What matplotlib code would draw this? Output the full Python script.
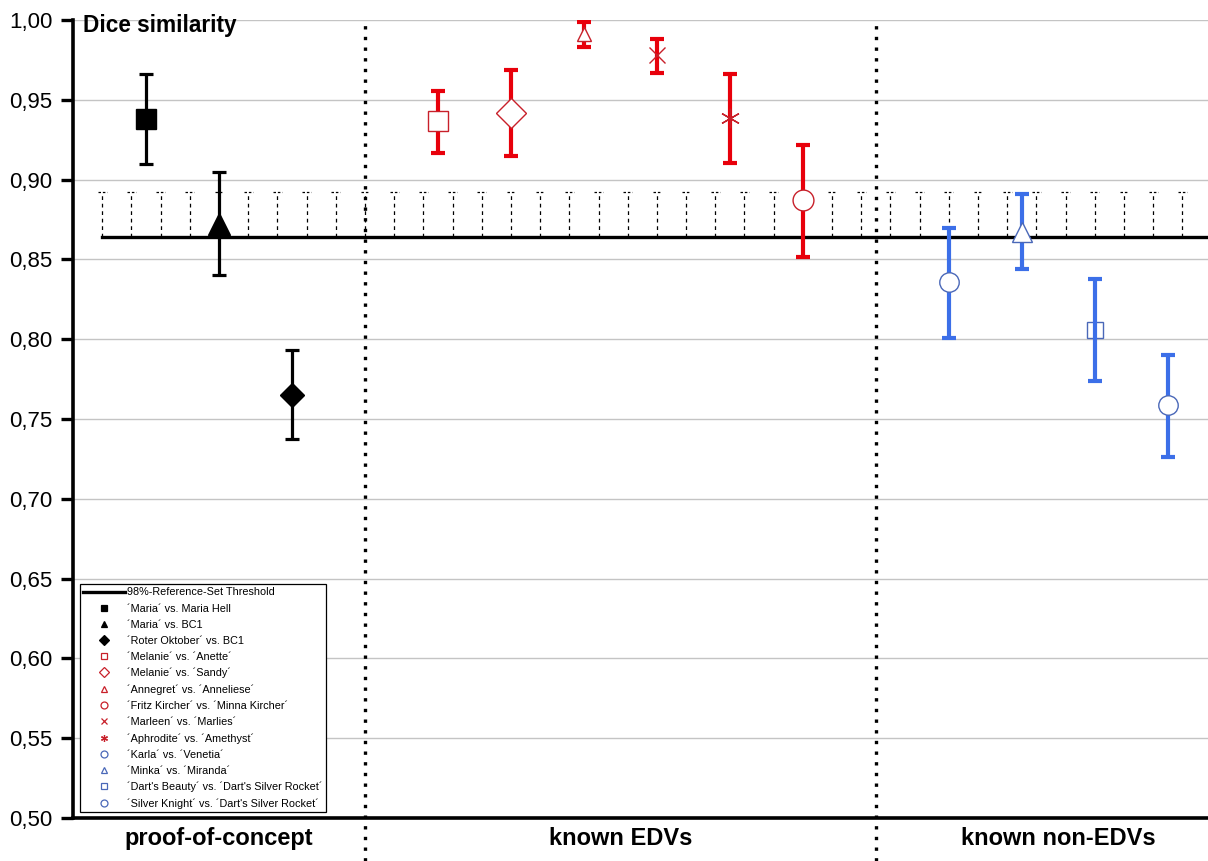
import numpy as np
import matplotlib
matplotlib.use("Agg")
import matplotlib.pyplot as plt
from matplotlib.lines import Line2D
from matplotlib.ticker import FuncFormatter, MultipleLocator

plt.rcParams['font.family'] = ['Liberation Sans', 'DejaVu Sans']

# ---------------- data (legend order) ----------------
labels = ["´Maria´ vs. Maria Hell", "´Maria´ vs. BC1", "´Roter Oktober´ vs. BC1",
          "´Melanie´ vs. ´Anette´", "´Melanie´ vs. ´Sandy´", "´Annegret´ vs. ´Anneliese´",
          "´Fritz Kircher´ vs. ´Minna Kircher´", "´Marleen´ vs. ´Marlies´",
          "´Aphrodite´ vs. ´Amethyst´", "´Karla´ vs. ´Venetia´", "´Minka´ vs. ´Miranda´",
          "´Dart's Beauty´ vs. ´Dart's Silver Rocket´",
          "´Silver Knight´ vs. ´Dart's Silver Rocket´"]
xpos = [1, 2, 3, 5, 6, 7, 10, 8, 9, 12, 13, 14, 15]
dice = [0.938, 0.8725, 0.765, 0.937, 0.942, 0.991, 0.887, 0.978, 0.9386, 0.836, 0.867, 0.806, 0.759]
upper = [0.966, 0.905, 0.793, 0.9555, 0.969, 0.9987, 0.922, 0.988, 0.966, 0.870, 0.891, 0.838, 0.790]
lower = [0.910, 0.840, 0.7375, 0.917, 0.915, 0.983, 0.8515, 0.967, 0.9106, 0.801, 0.844, 0.774, 0.726]
group = ['poc'] * 3 + ['edv'] * 6 + ['non'] * 4
markers = ['s', '^', 'D', 's', 'D', '^', 'o', 'x', (6, 2, 0), 'o', '^', 's', 'o']
msizes = [14, 16, 12, 15, 15, 10, 15, 12, 14, 14, 14, 12, 14]

thr_low = 0.864   # 98%-Reference-Set Threshold
thr_high = 0.892
hatch_x = 0.4 * np.arange(1, 39)

group_names = ["proof-of-concept", "known EDVs", "known non-EDVs"]
group_centers = [2.0, 7.5, 13.5]
dividers = [4, 11]

# ---------------- styles ----------------
bar_col = {'poc': 'black', 'edv': '#e8000b', 'non': '#3c6fe8'}
edge_col = {'poc': 'black', 'edv': '#c8202a', 'non': '#4a68b8'}
bar_lw = {'poc': 2.3, 'edv': 3.0, 'non': 3.0}

fig = plt.figure(figsize=(12.08, 8.61), dpi=100)
ax = fig.add_axes([0.0604, 0.0499, 0.9396, 0.9268])

ax.set_xlim(0, 15.55)
ax.set_ylim(0.5, 1.0)

# grid
ax.yaxis.set_major_locator(MultipleLocator(0.05))
ax.grid(axis='y', color='#c4c4c4', lw=1.0, zorder=0)
ax.set_axisbelow(True)

# threshold band (dashed "error bars") and threshold line
ax.vlines(hatch_x, thr_low, thr_high, colors='black', linestyles=(0, (3, 3)), lw=0.9, zorder=2)
ax.hlines(np.full(len(hatch_x), thr_high), hatch_x - 0.06, hatch_x + 0.06,
          colors='black', linestyles=(0, (2, 1.5)), lw=0.9, zorder=2)
ax.plot([hatch_x[0], 15.55], [thr_low, thr_low], color='black', lw=2.4, zorder=3)

# data points with error bars
for i in range(len(xpos)):
    g = group[i]
    err = [[dice[i] - lower[i]], [upper[i] - dice[i]]]
    ax.errorbar(xpos[i], dice[i], yerr=err, fmt='none', ecolor=bar_col[g],
                elinewidth=bar_lw[g], capsize=5, capthick=bar_lw[g], zorder=4)
    m = markers[i]
    if g == 'poc':
        fc = 'black'
    elif m in ('x', (6, 2, 0)) or i == 11:
        fc = 'none'
    else:
        fc = 'white'
    z = 3.5 if i == 11 else 5
    ax.plot(xpos[i], dice[i], marker=m, ms=msizes[i], mfc=fc, mec=edge_col[g],
            mew=1.0, ls='none', zorder=z)

# group dividers
ax.vlines(dividers, 0.473, 1.0, colors='black', linestyles=(0, (1, 2.2)), lw=2.4,
          clip_on=False, zorder=6)

# axes styling
for s in ['top', 'right']:
    ax.spines[s].set_visible(False)
ax.spines['left'].set_linewidth(2.6)
ax.spines['bottom'].set_linewidth(2.6)
ax.set_xticks([])
ax.tick_params(axis='y', direction='out', length=9, width=2.4, labelsize=16, pad=6)
ax.yaxis.set_major_formatter(FuncFormatter(lambda v, p: ("%.2f" % v).replace('.', ',')))

ax.text(0.009, 0.993, "Dice similarity", transform=ax.transAxes, fontsize=16.3,
        fontweight='bold', va='center', ha='left')
for name, cx in zip(group_names, group_centers):
    ax.text(cx, -0.026, name, transform=ax.get_xaxis_transform(), fontsize=17,
            fontweight='bold', ha='center', va='center')

# legend
handles = [Line2D([], [], color='black', lw=2.4)]
for i in range(len(xpos)):
    g = group[i]
    fc = 'black' if g == 'poc' else 'none'
    handles.append(Line2D([], [], marker=markers[i], ls='none', ms=5, mfc=fc,
                          mec=edge_col[g], mew=0.9))
leg = ax.legend(handles, ["98%-Reference-Set Threshold"] + labels, loc='lower left',
                bbox_to_anchor=(0.006, 0.0075), borderaxespad=0, fontsize=7.8,
                handlelength=3.9, handletextpad=0.15, labelspacing=0.56,
                fancybox=False, edgecolor='black', framealpha=1, borderpad=0.3)
leg.get_frame().set_linewidth(0.9)
leg.set_zorder(7)

fig.savefig("out.png", dpi=100)
